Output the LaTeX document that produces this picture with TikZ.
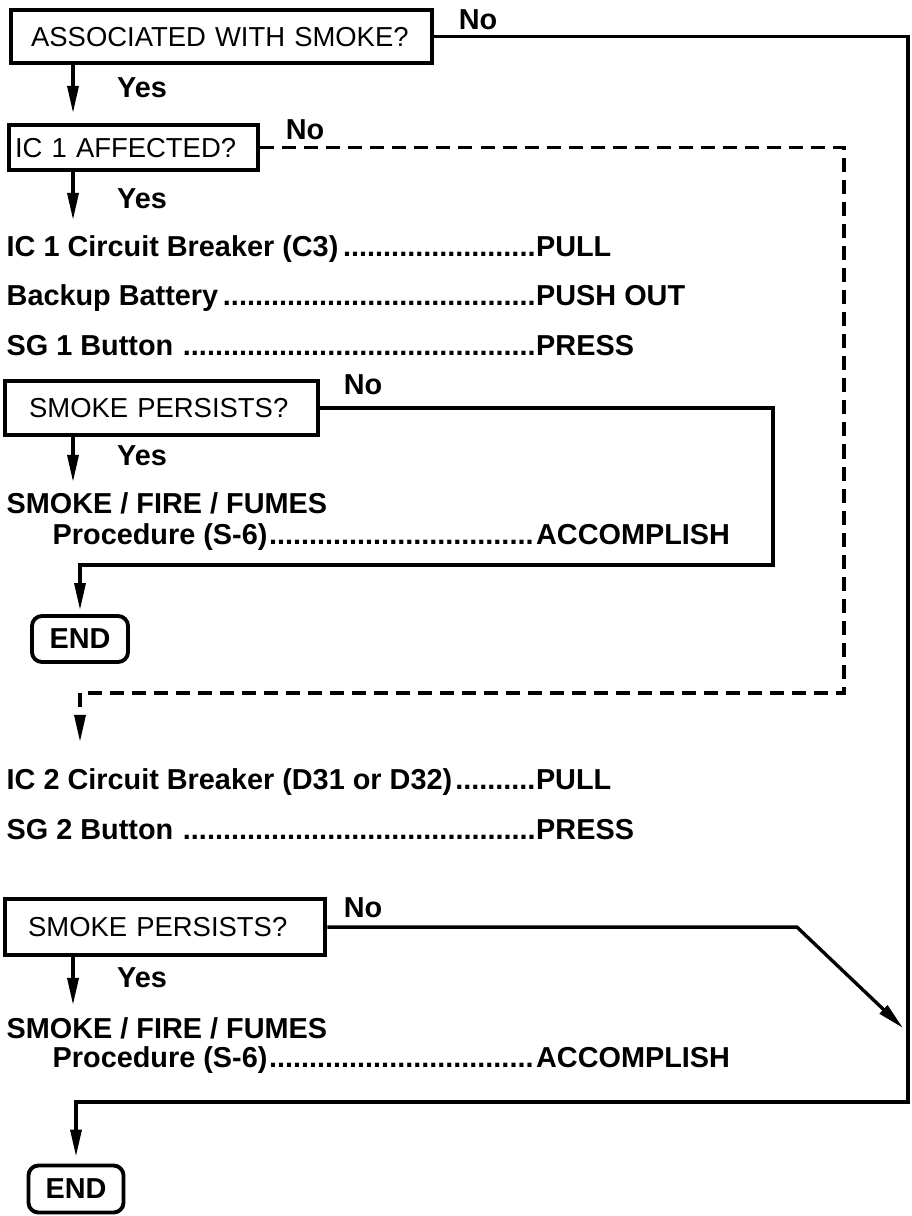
\documentclass[tikz,border=0pt]{standalone}
\usepackage{fontspec}
\setmainfont{Liberation Sans}
\usetikzlibrary{positioning, arrows.meta}

\newcommand{\qfont}{\fontsize{7.8pt}{9pt}\selectfont}
\newcommand{\bfont}{\fontsize{8.2pt}{10pt}\selectfont\bfseries}
\newcommand{\leadline}[3]{\hbox to #1{#2\leaders\hbox{.}\hfill}#3}

\begin{document}
\begin{tikzpicture}[
    x=0.01cm, y=-0.01cm,
    qbox/.style={draw=black, line width=1.2pt, anchor=north west, align=left, inner ysep=0pt, font=\qfont},
    endbox/.style={draw=black, line width=1.1pt, rounded corners=0.1cm, minimum width=0.96cm, minimum height=0.46cm, inner sep=0pt, font=\bfont},
    lbl/.style={font=\bfont, inner sep=0pt},
    item/.style={font=\bfont, inner sep=0pt, anchor=base west},
    edge/.style={line width=0.95pt, black},
    flow/.style={edge, -{Triangle[length=0.27cm, width=0.11cm]}},
    nobranch/.style={flow, dash pattern=on 0.14cm off 0.08cm}
]
    \useasboundingbox (0,0) rectangle (911,1216);

    % --- Question 1 (top): smoke?
    \node[qbox, text width=3.81cm, inner xsep=0.2cm, minimum height=0.53cm] (Q1) at (9,8) {ASSOCIATED WITH SMOKE?};
    \node[lbl] (No1) at (478,20) {No};
    \node[lbl] (Yes1) at (142,88) {Yes};
    \coordinate (Y1) at (73,113);

    % --- Question 2: IC 1
    \node[qbox, text width=2.37cm, inner xsep=0.06cm, minimum height=0.45cm] (Q2) at (7,123) {IC 1 AFFECTED?};
    \node[lbl] (No2) at (305,130) {No};
    \node[lbl] (Yes2) at (142,199) {Yes};
    \coordinate (Y2) at (73,220);

    % --- IC 1 steps
    \node[item] (S1) at (6,257) {\leadline{5.29cm}{IC 1 Circuit Breaker (C3)}{PULL}};
    \node[item] (S2) at (6,306) {\leadline{5.29cm}{Backup Battery}{PUSH OUT}};
    \node[item] (S3) at (6,356) {\leadline{5.29cm}{SG 1 Button }{PRESS}};

    % --- Question 3 (after IC 1)
    \node[qbox, text width=2.65cm, inner xsep=0.24cm, minimum height=0.54cm] (Q3) at (3,379) {SMOKE PERSISTS?};
    \node[lbl] (No3) at (363,385) {No};
    \node[lbl] (Yes3) at (142,456) {Yes};
    \coordinate (Y3) at (73,482);
    \node[item] (P1a) at (6,513) {SMOKE / FIRE / FUMES};
    \node[item] (P1b) at (52,544) {\leadline{4.83cm}{Procedure (S-6)}{ACCOMPLISH}};
    \coordinate (R3) at (773,565);
    \node[endbox] (End1) at (80,639) {END};

    % --- IC 2 branch
    \coordinate (R2) at (844,693);
    \coordinate (D2) at (80,742);
    \node[item] (S4) at (6,789) {\leadline{5.29cm}{IC 2 Circuit Breaker (D31 or D32)}{PULL}};
    \node[item] (S5) at (6,839) {\leadline{5.29cm}{SG 2 Button }{PRESS}};

    % --- Question 4 (after IC 2)
    \node[qbox, text width=2.74cm, inner xsep=0.23cm, minimum height=0.56cm] (Q4) at (3,897) {SMOKE PERSISTS?};
    \node[lbl] (No4) at (363,908) {No};
    \node[lbl] (Yes4) at (142,978) {Yes};
    \coordinate (Y4) at (73,1005);
    \coordinate (K4) at (797,925);
    \coordinate (T4) at (903,1028);
    \node[item] (P2a) at (6,1038) {SMOKE / FIRE / FUMES};
    \node[item] (P2b) at (52,1067) {\leadline{4.83cm}{Procedure (S-6)}{ACCOMPLISH}};
    \coordinate (R1) at (908,1102);
    \node[endbox, minimum width=0.95cm, minimum height=0.47cm] (End2) at (76,1189) {END};

    % --- Yes arrows
    \draw[flow] (Q1.south -| Y1) -- (Y1);
    \draw[flow] (Q2.south -| Y2) -- (Y2);
    \draw[flow] (Q3.south -| Y3) -- (Y3);
    \draw[flow] (Q4.south -| Y4) -- (Y4);

    % --- No branches
    \draw[flow, shorten >=0.07cm] (Q1.east) -| (R1) -| (End2.north);
    \draw[nobranch] (Q2.east) -| (R2) -| (D2);
    \draw[flow, shorten >=0.04cm] (Q3.east) -| (R3) -| (End1.north);
    \draw[flow] (Q4.east) -- (Q4.east -| K4) -- (T4);

\end{tikzpicture}
\end{document}
